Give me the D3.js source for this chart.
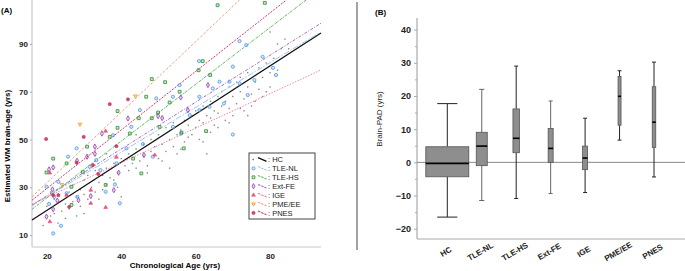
<!DOCTYPE html>
<html>
<head>
<meta charset="utf-8">
<script src="https://cdn.jsdelivr.net/npm/d3@7"></script>
<style>
  body { margin: 0; background: #fff; }
  svg { display: block; font-family: "Liberation Sans", Arial, sans-serif; }
</style>
</head>
<body>
<script>
// ---------- data ----------
var groups = ["HC", "TLE-NL", "TLE-HS", "Ext-FE", "IGE", "PME/EE", "PNES"];

// panel A: scatter points [age, estimated WM brain-age]
var hcPoints = [[19,14],[20,22],[21,18],[22,25],[22,19],[23,15],[23,27],[24,20],[24,30],[25,17],[25,23],[26,28],[26,21],[27,24],[27,31],[28,18],[28,26],[29,29],[29,22],[30,33],[30,27],[31,25],[31,35],[32,30],[33,28],[33,37],[34,32],[35,35],[35,29],[36,38],[36,31],[37,34],[38,40],[38,33],[39,36],[40,42],[40,26],[41,39],[42,44],[42,37],[43,40],[44,46],[44,38],[45,41],[46,48],[46,43],[47,39],[48,45],[48,50],[49,47],[50,42],[50,52],[51,48],[52,45],[52,55],[53,50],[54,47],[54,57],[55,52],[55,44],[56,54],[57,49],[57,58],[58,56],[58,51],[59,60],[60,55],[60,62],[61,58],[61,50],[62,64],[62,57],[63,60],[63,44],[64,66],[64,59],[65,62],[65,56],[66,68],[66,61],[67,64],[67,70],[68,58],[68,66],[69,72],[69,63],[70,68],[70,60],[71,74],[71,65],[72,70],[72,76],[73,67],[73,62],[74,72],[74,78],[75,69],[75,64],[76,74],[77,80],[77,71],[78,76],[78,68],[79,82],[80,78],[80,72],[81,84],[82,79],[83,88],[84,92],[85,88],[80,95],[82,90],[44,52],[47,36],[51,41],[53,38],[56,46],[59,52],[62,49],[64,53],[66,55],[69,57],[72,63],[74,60],[76,66],[79,70],[36,44],[39,30],[34,25],[30,19],[25,31],[21,28]];
var tleNlPoints = [[71.8,91.2],[73.6,89.5],[60.9,82.8],[78,84.6],[81.6,77],[80.8,80],[70,80.5],[70,52.1],[66.4,74.2],[69.1,74.2],[64.6,71.4],[71.8,73.5],[74,68.6],[75.8,74.9],[67.6,65.1],[61,67.9],[61,62.3],[55.7,72.8],[53.9,67.9],[49.4,67.2],[45,62.3],[42.7,55.3],[41.4,46.3],[37.8,51.8],[33.3,41.4],[31.5,38.6],[28,46.3],[25.7,42.8],[21.7,10.7],[23.8,13.9],[20.6,23],[22,26],[19.9,30.2],[23.1,32.3],[25.3,27.5],[28.2,26],[35.8,28.1],[39.6,23.3],[38.3,31.2],[34.4,37.2],[38.7,40],[45.8,48.1],[48.5,42.8],[53.9,55.3],[56.1,52.5],[58.4,60.2],[63.7,63.7]];
var tleHsPoints = [[65.9,106.2],[78.6,107.2],[48.2,75.3],[51.8,74],[46.7,67.9],[39,61.9],[39,54.9],[44.7,58.9],[48.2,58.9],[30.8,47],[19.9,36.2],[21.7,42],[60.8,79],[61.9,82.8],[63.9,77],[62.8,53.5],[56.8,46.3],[45.4,35.8],[36.9,51.1],[25.3,40],[26.6,30.2],[26.6,22.6],[35.8,31],[55.7,70],[49.9,61.3],[53,65.5],[42.3,52.5],[43.2,42],[29.7,36.4],[50.3,55.3],[56.2,52.9]];
var extFePoints = [[21.7,38.3],[20.6,37.5],[21.5,29.1],[22.8,24.4],[21.7,20.8],[19.9,17.7],[28.1,41.1],[30.8,42.8],[32.9,47],[32.9,44],[34.8,52.5],[38,28.8],[41.8,58.8],[49.9,59.8],[56,67.6],[57.9,62.3],[63.3,72.8],[51,59],[46.1,43.5],[31.8,26.3],[28.5,24.6],[39.3,36.1]];
var igePoints = [[35.8,53.5],[35.8,21.6],[31.8,23.3],[20.8,15.6],[20.8,36],[31.8,28.8],[49,43.5],[25.3,26.7],[38.7,42.6]];
var pmePoints = [[43.8,68.2],[28.9,56.4],[24,31.2]];
var pnesPoints = [[19.8,50.2],[36.9,64.8],[41.8,66.8],[29.9,51.1],[28,40.3],[33.8,35.6],[21.7,26.7],[23.1,26.7],[26,21.8],[32.4,39.3],[38.7,47.2]];

// panel A: fitted lines, [start age, start value, end age, end value]
var fitLines = [
  [16, 16.3, 93.7, 94.6],
  [16, 22.3, 93.7, 95.0],
  [16, 20.8, 89.7, 108.4],
  [16, 22.5, 93.7, 98.7],
  [16, 23.0, 93.7, 79.1],
  [16, 26.0, 71.8, 108.4],
  [16, 24.6, 84.4, 108.4]
];
var ageTicks = [20, 40, 60, 80];
var brainAgeTicks = [10, 30, 50, 70, 90];

// panel B: box plot stats per group
var whiskerLow  = [-16.5, -11.5, -10.9, -9.4, -9.1, 6.7, -4.4];
var q1          = [-4.35, -1.0, 2.9, 0.0, -2.2, 11.2, 4.5];
var medians     = [-0.3, 4.9, 7.25, 4.2, 1.3, 19.9, 12.1];
var q3          = [4.7, 9.06, 16.1, 10.2, 4.9, 25.9, 22.8];
var whiskerHigh = [17.7, 22.0, 29.0, 18.5, 13.3, 27.6, 30.2];
var padTicks = [-20, -10, 0, 10, 20, 30, 40];

// ---------- styles ----------
var colors = ["#000000", "#5b9ee8", "#3f9a3f", "#9b50b8", "#e8436f", "#f5a020", "#c82a55"];
var lineColors = ["#111111", "#9cc8f0", "#5fb85f", "#a66ccc", "#f07a98", "#f2a088", "#d2386a"];
var lineDash = [null, "6,1.5,1.5,1.5", "3,1,1,1", "3,1.5,1,1.5", "1.3,1.6", "2.5,1.8", "2,1.3"];
var boxWidths = [43, 11, 6.5, 5, 5, 3, 3.5];
var markerSizes = [0, 8, 8, 8, 6, 6, 8];

var svg = d3.select("body").append("svg")
  .attr("width", 685)
  .attr("height", 271);

// ================= Panel A =================
var x = d3.scaleLinear().domain([16, 93.7]).range([32, 321]);
var y = d3.scaleLinear().domain([5, 108.4]).range([247, 0]);

var gA = svg.append("g");

gA.append("line").attr("x1", 32).attr("x2", 32).attr("y1", 0).attr("y2", 247)
  .attr("stroke", "#c8c8c8").attr("stroke-width", 1.2);
gA.append("line").attr("x1", 32).attr("x2", 321).attr("y1", 247).attr("y2", 247)
  .attr("stroke", "#c8c8c8").attr("stroke-width", 1.2);

var xAxisA = d3.axisBottom(x).tickValues(ageTicks).tickSize(0).tickPadding(6);
gA.append("g").attr("transform", "translate(0,247)").call(xAxisA)
  .call(g => g.select(".domain").remove())
  .selectAll("text").attr("font-size", 8).attr("font-weight", "bold").attr("fill", "#222")
  .attr("font-family", "Liberation Sans, Arial, sans-serif");

var yAxisA = d3.axisLeft(y).tickValues(brainAgeTicks).tickSize(2).tickPadding(2);
gA.append("g").attr("transform", "translate(32,0)").call(yAxisA)
  .call(g => g.select(".domain").remove())
  .call(g => g.selectAll("line").attr("stroke", "#aaa"))
  .selectAll("text").attr("font-size", 8).attr("font-weight", "bold").attr("fill", "#222")
  .attr("font-family", "Liberation Sans, Arial, sans-serif");

// HC dots
gA.append("g").selectAll("rect").data(hcPoints).join("rect")
  .attr("x", d => x(d[0]) - 0.7).attr("y", d => y(d[1]) - 0.7)
  .attr("width", 1.4).attr("height", 1.4).attr("fill", "#8a8a8a");

var symbolTypes = [null, d3.symbolCircle, d3.symbolSquare, d3.symbolDiamond, d3.symbolTriangle, d3.symbolTriangle, d3.symbolCircle];
var pointSets = [null, tleNlPoints, tleHsPoints, extFePoints, igePoints, pmePoints, pnesPoints];

function drawMarker(sel, i) {
  var sym = d3.symbol().type(symbolTypes[i]).size(markerSizes[i]);
  var p = sel.append("path").attr("d", sym());
  if (i === 5) p.attr("transform", "rotate(180)");
  if (i === 4 || i === 6) {
    p.attr("fill", colors[i]).attr("fill-opacity", 0.85).attr("stroke", colors[i]).attr("stroke-width", 0.6);
  } else {
    p.attr("fill", colors[i]).attr("fill-opacity", 0.25).attr("stroke", colors[i]).attr("stroke-width", 0.9);
  }
  return p;
}

// fitted lines
fitLines.forEach(function (l, i) {
  gA.append("line")
    .attr("x1", x(l[0])).attr("y1", y(l[1]))
    .attr("x2", x(l[2])).attr("y2", y(l[3]))
    .attr("stroke", lineColors[i])
    .attr("stroke-width", i === 0 ? 1.3 : 1)
    .attr("stroke-dasharray", lineDash[i]);
});

// group markers
for (var i = 1; i < groups.length; i++) {
  gA.append("g").selectAll("g").data(pointSets[i]).join("g")
    .attr("transform", d => `translate(${x(d[0])},${y(d[1])})`)
    .each(function () { drawMarker(d3.select(this), i); });
}

// legend
var leg = gA.append("g");
leg.append("rect").attr("x", 249).attr("y", 153).attr("width", 66).attr("height", 66)
  .attr("fill", "#fff").attr("stroke", "#444").attr("stroke-width", 1);
groups.forEach(function (name, i) {
  var ry = 159.5 + i * 8.9;
  var row = leg.append("g");
  if (i === 0) {
    row.append("rect").attr("x", 252.5).attr("y", ry - 0.7).attr("width", 1.4).attr("height", 1.4).attr("fill", "#666");
  } else {
    drawMarker(row.append("g").attr("transform", `translate(253.5,${ry})`), i);
  }
  row.append("line").attr("x1", 258).attr("y1", ry - 1.8).attr("x2", 266.5).attr("y2", ry + 1.8)
    .attr("stroke", lineColors[i]).attr("stroke-width", i === 0 ? 1.3 : 1.1)
    .attr("stroke-dasharray", i === 0 ? null : "2.5,1");
  row.append("text").attr("x", 268).attr("y", ry + 2.6)
    .attr("font-size", 7.5).attr("fill", "#222").text(": " + name);
});

// titles
svg.append("text").attr("x", 1).attr("y", 13).attr("font-size", 8).attr("font-weight", "bold").text("(A)");
svg.append("text").attr("transform", "translate(10,146) rotate(-90)")
  .attr("text-anchor", "middle").attr("font-size", 8).attr("font-weight", "bold")
  .text("Estimated WM brain-age (yrs)");
svg.append("text").attr("x", 175).attr("y", 268)
  .attr("text-anchor", "middle").attr("font-size", 8).attr("font-weight", "bold")
  .text("Chronological Age (yrs)");

// separator
svg.append("line").attr("x1", 357).attr("x2", 357).attr("y1", 2).attr("y2", 250)
  .attr("stroke", "#666").attr("stroke-width", 1.2);

// ================= Panel B =================
var xb = d3.scalePoint().domain(groups).range([447.3, 654]);
var yb = d3.scaleLinear().domain([-23.1, 43.5]).range([239, 18]);

var gB = svg.append("g");

gB.append("line").attr("x1", 417).attr("x2", 417).attr("y1", 18).attr("y2", 239)
  .attr("stroke", "#aaa").attr("stroke-width", 1.2);
gB.append("line").attr("x1", 417).attr("x2", 685).attr("y1", 239).attr("y2", 239)
  .attr("stroke", "#aaa").attr("stroke-width", 1.2);

var yAxisB = d3.axisLeft(yb).tickValues(padTicks).tickSize(3).tickPadding(3).tickFormat(d3.format("d"));
gB.append("g").attr("transform", "translate(417,0)").call(yAxisB)
  .call(g => g.select(".domain").remove())
  .call(g => g.selectAll("line").attr("stroke", "#aaa"))
  .selectAll("text").attr("font-size", 9).attr("font-weight", "bold").attr("fill", "#222")
  .attr("font-family", "Liberation Sans, Arial, sans-serif");
// minor ticks
var minorB = d3.axisLeft(yb).tickValues([-15, -5, 5, 15, 25, 35]).tickSize(2).tickFormat("");
gB.append("g").attr("transform", "translate(417,0)").call(minorB)
  .call(g => g.select(".domain").remove())
  .call(g => g.selectAll("line").attr("stroke", "#aaa"));

// zero line
gB.append("line").attr("x1", 417).attr("x2", 685).attr("y1", yb(0)).attr("y2", yb(0))
  .attr("stroke", "#888").attr("stroke-width", 1);

groups.forEach(function (name, i) {
  var cx = xb(name);
  var w = boxWidths[i];
  var cap = Math.max(4, w * 0.47);
  var wc = (i === 1 || i === 3) ? "#666" : "#222";
  var g = gB.append("g");
  g.append("line").attr("x1", cx).attr("x2", cx).attr("y1", yb(whiskerLow[i])).attr("y2", yb(q1[i]))
    .attr("stroke", wc).attr("stroke-width", 1);
  g.append("line").attr("x1", cx).attr("x2", cx).attr("y1", yb(q3[i])).attr("y2", yb(whiskerHigh[i]))
    .attr("stroke", wc).attr("stroke-width", 1);
  g.append("line").attr("x1", cx - cap / 2).attr("x2", cx + cap / 2).attr("y1", yb(whiskerLow[i])).attr("y2", yb(whiskerLow[i]))
    .attr("stroke", wc).attr("stroke-width", 1);
  g.append("line").attr("x1", cx - cap / 2).attr("x2", cx + cap / 2).attr("y1", yb(whiskerHigh[i])).attr("y2", yb(whiskerHigh[i]))
    .attr("stroke", wc).attr("stroke-width", 1);
  g.append("rect").attr("x", cx - w / 2).attr("y", yb(q3[i]))
    .attr("width", w).attr("height", yb(q1[i]) - yb(q3[i]))
    .attr("fill", "#8e8e8e").attr("stroke", "#555").attr("stroke-width", 0.8);
  g.append("line").attr("x1", cx - w / 2).attr("x2", cx + w / 2).attr("y1", yb(medians[i])).attr("y2", yb(medians[i]))
    .attr("stroke", "#000").attr("stroke-width", 1.6);
  g.append("text")
    .attr("transform", `translate(${cx},${254}) rotate(-30)`)
    .attr("text-anchor", "middle").attr("font-size", 8).attr("font-weight", "bold").attr("fill", "#222")
    .text(name);
});

svg.append("text").attr("x", 375).attr("y", 15).attr("font-size", 8).attr("font-weight", "bold").text("(B)");
svg.append("text").attr("transform", "translate(382,119) rotate(-90)")
  .attr("text-anchor", "middle").attr("font-size", 8).attr("fill", "#222")
  .text("Brain-PAD (yrs)");
</script>
</body>
</html>
